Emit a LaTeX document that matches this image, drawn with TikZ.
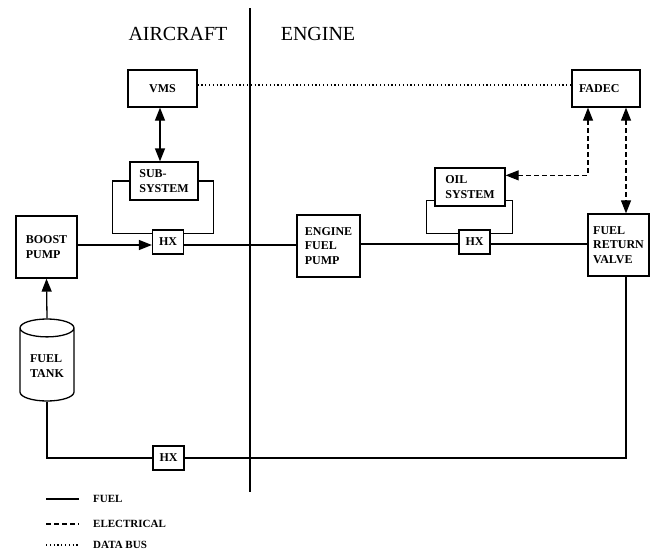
\documentclass[tikz,border=0pt]{standalone}
\usepackage{fontspec}
\setmainfont{Liberation Serif}
\usetikzlibrary{arrows.meta, shapes.geometric}

\begin{document}
\begin{tikzpicture}[
  x=1pt, y=-1pt,
  line cap=butt,
  line join=miter,
  unit/.style={
    draw=black,
    line width=1.3pt,
    fill=white,
    align=left,
    font=\bfseries\fontsize{12}{14.5}\selectfont,
    inner sep=2pt
  },
  hx/.style={
    unit,
    minimum width=31pt,
    minimum height=24pt,
    align=center
  },
  tankshape/.style={
    draw=black,
    line width=1.3pt,
    fill=white,
    cylinder,
    shape border rotate=90,
    aspect=0.5,
    minimum width=54pt,
    minimum height=82pt,
    align=left,
    font=\bfseries\fontsize{12}{14.5}\selectfont,
    inner sep=1pt
  },
  title/.style={
    font=\fontsize{20}{23}\selectfont
  },
  legend/.style={
    anchor=west,
    font=\bfseries\fontsize{11}{12}\selectfont,
    inner sep=0pt
  },
  fuel/.style={
    line width=1.3pt,
    draw=black
  },
  fuelarrow/.style={
    fuel,
    -{Triangle[length=13pt,width=10pt]}
  },
  fuelboth/.style={
    fuel,
    {Triangle[length=13pt,width=10pt]}-{Triangle[length=13pt,width=10pt]}
  },
  elec/.style={
    line width=1.1pt,
    draw=black,
    dash pattern=on 4.5pt off 3.5pt
  },
  elecboth/.style={
    elec,
    {Triangle[length=13pt,width=10pt]}-{Triangle[length=13pt,width=10pt]}
  },
  databus/.style={
    line width=1.2pt,
    draw=black,
    dash pattern=on 1.2pt off 2.6pt
  }
]

\useasboundingbox (0,0) rectangle (652,552);

% =========================================================
% Aircraft / engine boundary
% =========================================================

\coordinate (divtop) at (250,8);
\coordinate (divbot) at (250,492);
\draw[line width=2.6pt] (divtop) -- (divbot);

\node[title] (aircraft) at (178,34) {AIRCRAFT};
\node[title] (engine) at (318,34) {ENGINE};

% =========================================================
% Aircraft side
% =========================================================

\node[unit, minimum width=69pt, minimum height=37pt] (vms) at (162.5,88.5)
{VMS};

\node[unit, minimum width=68pt, minimum height=38pt] (subsys) at (164,181)
{SUB-\\SYSTEM};

\node[hx] (hxair) at (168,242) {HX};

\node[unit, minimum width=61pt, minimum height=62pt] (boost) at (46.5,247)
{BOOST\\PUMP};

\node[tankshape] (tank) at (47,366)
{FUEL\\TANK};

\node[hx] (hxret) at (168.5,458) {HX};

% =========================================================
% Engine side
% =========================================================

\node[unit, minimum width=63pt, minimum height=62pt] (efp) at (328.5,246)
{ENGINE\\FUEL\\PUMP};

\node[unit, minimum width=70pt, minimum height=38pt] (oil) at (470,187)
{OIL\\SYSTEM};

\node[hx] (hxoil) at (474.5,242) {HX};

\node[unit, minimum width=61pt, minimum height=62pt] (frv) at (618.5,245)
{FUEL\\RETURN\\VALVE};

\node[unit, minimum width=68pt, minimum height=37pt,
      text width=54pt] (fadec) at (606,88.5)
{FADEC};

\coordinate (retx) at (626,0);
\coordinate (oilx) at (588,0);

% =========================================================
% Fuel lines
% =========================================================

\draw[fuelarrow] (tank.north) -- (boost.south);
\draw[fuelarrow] (boost.east |- 0,245) -- (hxair.west |- 0,245);
\draw[fuel] (hxair.east |- 0,245) -- (efp.west |- 0,245);
\draw[fuel] (efp.east |- 0,244) -- (hxoil.west |- 0,244);
\draw[fuel] (hxoil.east |- 0,244) -- (frv.west |- 0,244);

% heat exchanger loops
\draw[fuel] (subsys.west) -- ++(-17,0) |- ([yshift=-4pt]hxair.north west);
\draw[fuel] (subsys.east) -- ++(15,0) |- ([yshift=-4pt]hxair.north east);
\draw[fuel] ([yshift=6pt]oil.south west) -- ++(-8,0) |- ([yshift=-4pt]hxoil.north west);
\draw[fuel] ([yshift=6pt]oil.south east) -- ++(7,0) |- ([yshift=-4pt]hxoil.north east);

% return line
\draw[fuel] (tank.south) |- (hxret.west);
\draw[fuel] (hxret.east) -| (frv.south -| retx);

% =========================================================
% Control links
% =========================================================

\draw[fuelboth] (vms.south -| 160,0) -- (subsys.north -| 160,0);
\draw[databus] (vms.east |- 0,85) -- (fadec.west |- 0,85);

\draw[elecboth] (fadec.south -| oilx) |- ([yshift=-8pt]oil.north east);
\draw[elecboth] (fadec.south -| retx) -- (frv.north -| retx);

% =========================================================
% Legend
% =========================================================

\coordinate (lega) at (46,499);
\coordinate (legb) at (46,524);
\coordinate (legc) at (46,545);

\draw[fuel] (lega) -- ++(33,0);
\draw[elec] (legb) -- ++(33,0);
\draw[databus] (legc) -- ++(33,0);

\node[legend] (legfuel) at (93,499) {FUEL};
\node[legend] (legelec) at (93,524) {ELECTRICAL};
\node[legend] (legdata) at (93,545) {DATA BUS};

\end{tikzpicture}
\end{document}
